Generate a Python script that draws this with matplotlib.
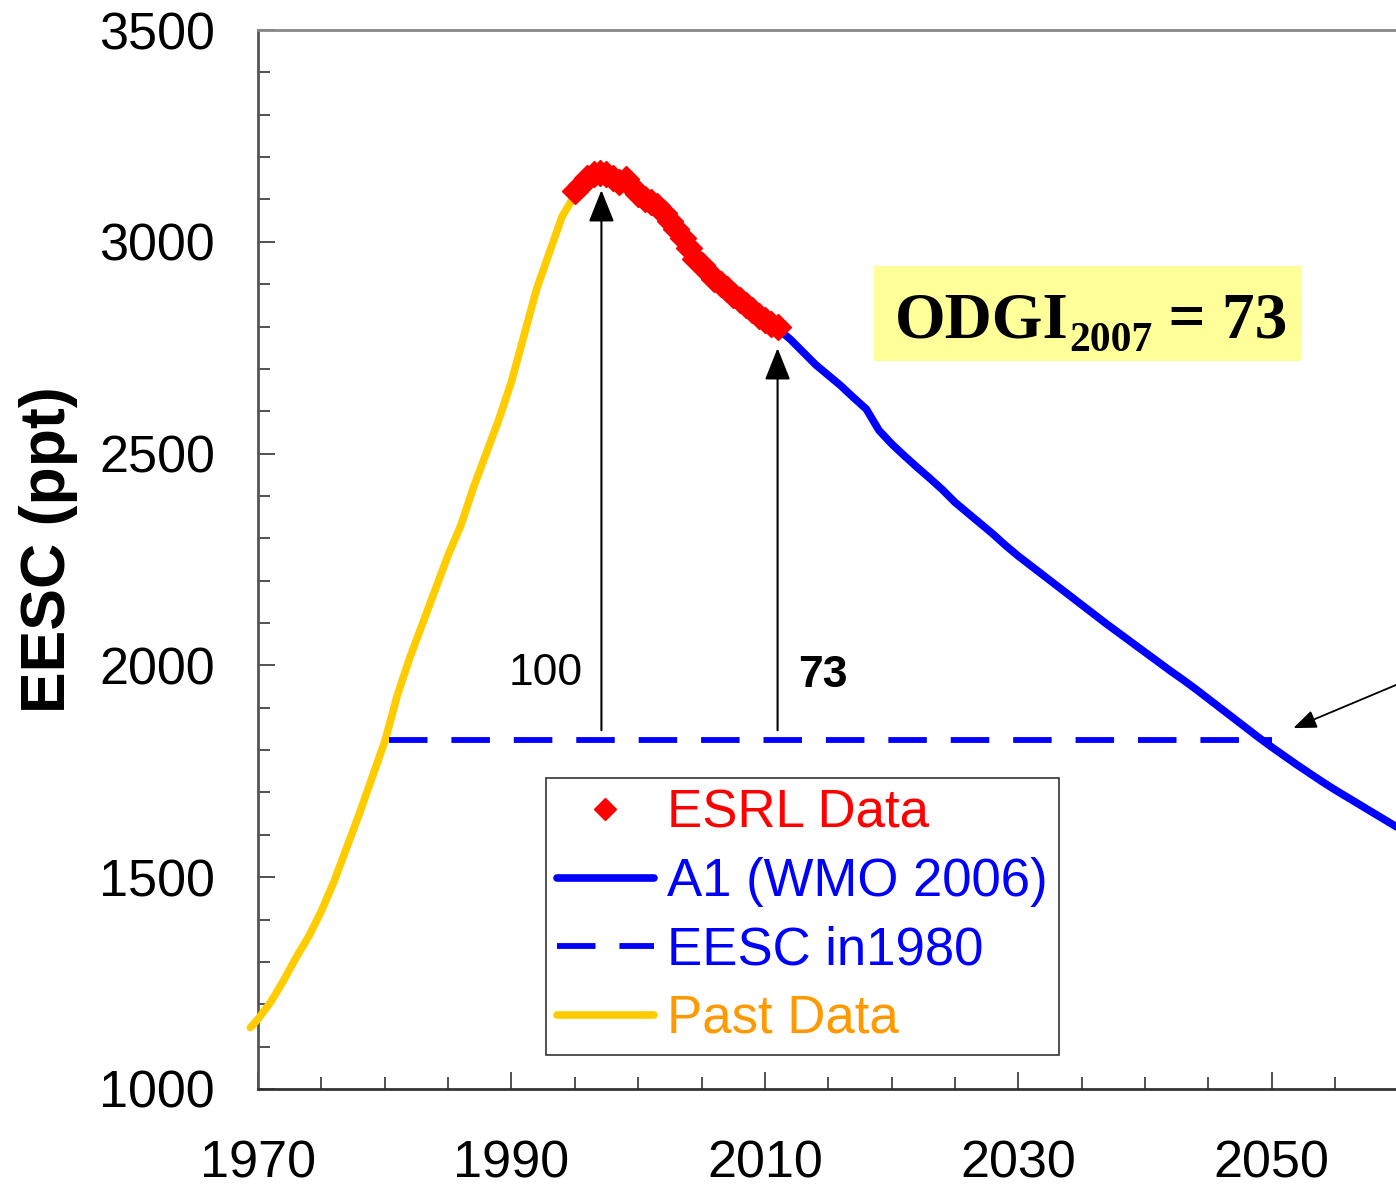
import numpy as np
import matplotlib.pyplot as plt
from matplotlib.patches import Rectangle
from matplotlib.ticker import MultipleLocator

plt.rcParams['font.family'] = ['Liberation Sans', 'DejaVu Sans']

# Past EESC (yearly)
past_years = [1969.4, 1970, 1971, 1972, 1973, 1974, 1975, 1976, 1977, 1978, 1979,
              1980, 1981, 1982, 1983, 1984, 1985, 1986, 1987, 1988, 1989, 1990,
              1991, 1992, 1993, 1994, 1995]
past_eesc = [1145, 1165, 1205, 1255, 1310, 1360, 1420, 1490, 1570, 1650, 1735,
             1820, 1930, 2020, 2100, 2180, 2260, 2330, 2420, 2500, 2580, 2670,
             2780, 2890, 2975, 3060, 3110]

# ESRL measurements, every half year 1995-2011
esrl_years = np.arange(1995.0, 2011.01, 0.5)
esrl_eesc = [3120, 3135, 3150, 3160, 3162, 3160, 3150, 3140, 3148, 3130, 3112,
             3100, 3095, 3085, 3068, 3050, 3030, 3008, 2985, 2960, 2945, 2928,
             2912, 2900, 2888, 2875, 2862, 2850, 2838, 2826, 2815, 2806, 2798]

# A1 scenario projection (WMO 2006)
a1_years = np.arange(2011, 2061)
a1_eesc = [2795, 2770, 2740, 2710, 2685, 2660, 2632, 2605, 2555, 2523,
           2495, 2468, 2442, 2415, 2385, 2360, 2335, 2310, 2283, 2258,
           2235, 2212, 2189, 2166, 2143, 2120, 2097, 2075, 2053, 2031,
           2009, 1987, 1966, 1944, 1921, 1898, 1875, 1852, 1829, 1807,
           1786, 1765, 1745, 1725, 1706, 1688, 1670, 1652, 1634, 1616]

eesc_1980 = 1824
ref_years = [1980.3, 2050]

peak_year, peak_eesc = 1997.1, 3122
odgi_year, odgi_eesc = 2011.0, 2749

fig = plt.figure(figsize=(13.96, 11.9), dpi=100)
ax = fig.add_axes([258 / 1396, 101 / 1190, 1138 / 1396, 1059 / 1190])

ax.plot(past_years, past_eesc, color='#FFCC00', lw=5.5, solid_capstyle='round',
        label='Past Data', clip_on=False, zorder=3)
ax.plot(a1_years, a1_eesc, color='#0000FF', lw=5.5, solid_capstyle='round',
        label='A1 (WMO 2006)', zorder=3)
ax.plot(ref_years, [eesc_1980, eesc_1980], color='#0000FF', lw=4.2,
        linestyle=(0, (6.6, 4.1)), dash_capstyle='butt',
        label='EESC in1980', zorder=3)
ax.plot(esrl_years, esrl_eesc, linestyle='none', marker='D', ms=13,
        color='#FF0000', mec='#FF0000', label='ESRL Data', zorder=4)

# arrows from the 1980 level
arrow_kw = dict(arrowstyle='-|>,head_length=0.55,head_width=0.22',
                color='black', lw=1.5, mutation_scale=36, shrinkA=0, shrinkB=0)
ax.annotate('', xy=(peak_year, peak_eesc), xytext=(peak_year, 1847),
            arrowprops=arrow_kw, zorder=5)
ax.annotate('', xy=(odgi_year, odgi_eesc), xytext=(odgi_year, 1847),
            arrowprops=arrow_kw, zorder=5)
ax.text(peak_year - 4.4, 1980, '100', fontsize=32, ha='center', va='center')
ax.text(odgi_year + 3.6, 1976, '73', fontsize=32, fontweight='bold',
        ha='center', va='center')

# pointer towards the return date
ax.annotate('', xy=(2051.7, 1852), xytext=(2063, 1994),
            arrowprops=dict(arrowstyle='-|>,head_length=0.5,head_width=0.2',
                            color='black', lw=1.3, mutation_scale=28,
                            shrinkA=0, shrinkB=0),
            annotation_clip=False)

# ODGI box
ax.add_patch(Rectangle((0.5413, 0.6874), 0.3752, 0.0897, transform=ax.transAxes,
                       facecolor='#FFFF99', edgecolor='none', zorder=2))
serif = dict(family=['Liberation Serif', 'DejaVu Serif'], fontweight='bold')
t1 = ax.text(0.5598, 0.7101, 'ODGI', transform=ax.transAxes, fontsize=47,
             va='baseline', zorder=6, **serif)
t2 = ax.annotate('2007', xy=(1, 0), xycoords=t1, fontsize=30,
                 va='baseline', ha='left', zorder=6, **serif)
ax.annotate(' = 73', xy=(1, 0), xycoords=(t2, t1), fontsize=47,
            va='bottom', ha='left', zorder=6, **serif)

ax.set_xlim(1970, 2059.8)
ax.set_ylim(1000, 3500)
ax.xaxis.set_major_locator(MultipleLocator(20, offset=10))
ax.xaxis.set_minor_locator(MultipleLocator(5))
ax.yaxis.set_major_locator(MultipleLocator(500))
ax.yaxis.set_minor_locator(MultipleLocator(100))
ax.tick_params(which='both', direction='in', colors='#333333', width=1.2,
               labelcolor='black', labelsize=37.5)
ax.tick_params(which='major', length=12)
ax.tick_params(which='minor', length=8.5)
ax.tick_params(axis='x', pad=36)
ax.tick_params(axis='y', pad=31)

ax.spines['right'].set_visible(False)
ax.spines['left'].set_color('#555555')
ax.spines['left'].set_linewidth(2)
ax.spines['bottom'].set_color('#333333')
ax.spines['bottom'].set_linewidth(2)
ax.spines['top'].set_color('#888888')
ax.spines['top'].set_linewidth(2)

ax.set_ylabel('EESC (ppt)', fontsize=45, fontweight='bold')
ax.yaxis.set_label_coords(-0.158, 0.509)

handles, labels = ax.get_legend_handles_labels()
order = [3, 1, 2, 0]
leg = ax.legend([handles[i] for i in order], [labels[i] for i in order],
                loc='upper left', bbox_to_anchor=(546 / 1396, 1 - 778 / 1190),
                bbox_transform=fig.transFigure, fontsize=38, fancybox=False,
                framealpha=1, edgecolor='#333333', handlelength=1.85,
                handletextpad=0.25, borderpad=0.2, labelspacing=0.35,
                borderaxespad=0, markerscale=0.85)
leg.get_frame().set_linewidth(1.2)
for txt, col in zip(leg.get_texts(), ['#FF0000', '#0000FF', '#0000FF', '#FF9900']):
    txt.set_color(col)

fig.savefig('out.png', dpi=100)
